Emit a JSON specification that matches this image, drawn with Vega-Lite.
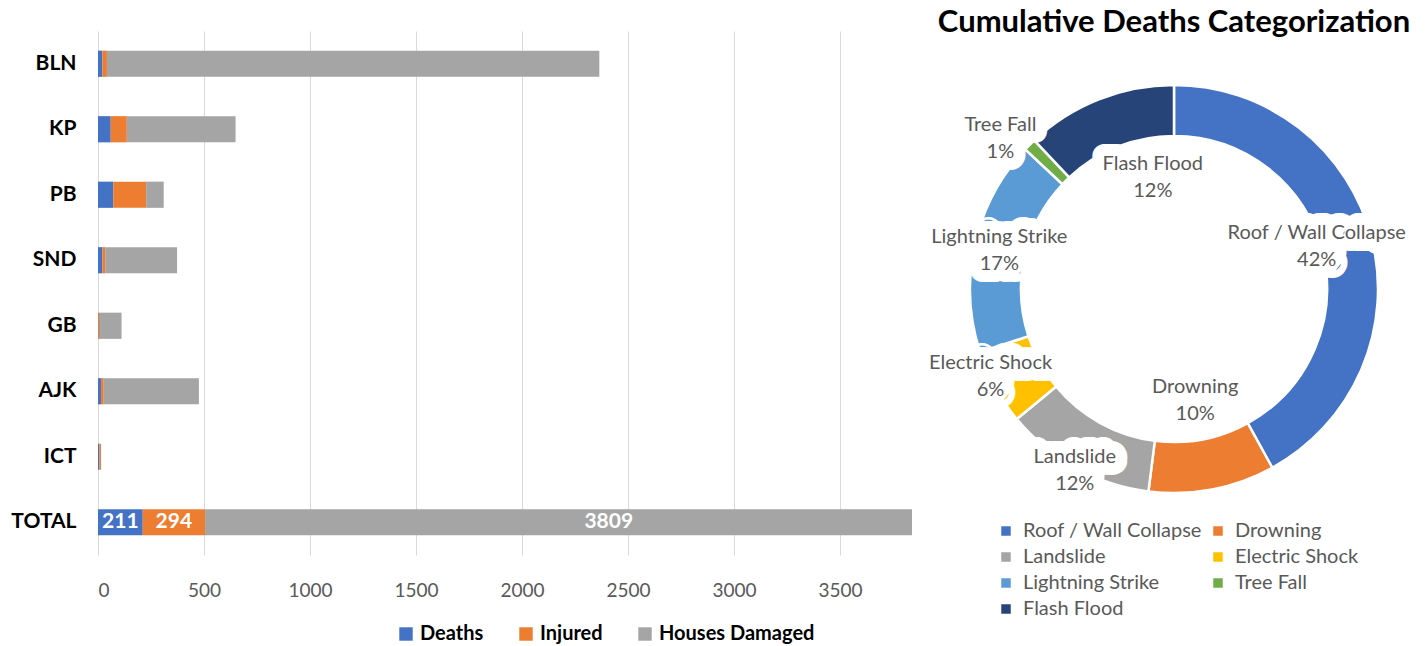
{
  "$schema": "https://vega.github.io/schema/vega-lite/v6.json",
  "background": "white",
  "padding": {"left": 10, "top": 7, "right": 0, "bottom": 0},
  "bounds": "flush",
  "spacing": 58,
  "config": {
    "font": "Lato",
    "view": {"stroke": null},
    "axis": {"labelFont": "Lato"},
    "legend": {"labelFont": "Lato"},
    "title": {"font": "Lato"}
  },
  "datasets": {
    "bars": [
      {"region": "BLN", "measure": "Deaths", "k": 1, "value": 20},
      {"region": "BLN", "measure": "Injured", "k": 2, "value": 22},
      {"region": "BLN", "measure": "Houses Damaged", "k": 3, "value": 2323},
      {"region": "KP", "measure": "Deaths", "k": 1, "value": 60},
      {"region": "KP", "measure": "Injured", "k": 2, "value": 76},
      {"region": "KP", "measure": "Houses Damaged", "k": 3, "value": 513},
      {"region": "PB", "measure": "Deaths", "k": 1, "value": 72},
      {"region": "PB", "measure": "Injured", "k": 2, "value": 155},
      {"region": "PB", "measure": "Houses Damaged", "k": 3, "value": 83},
      {"region": "SND", "measure": "Deaths", "k": 1, "value": 20},
      {"region": "SND", "measure": "Injured", "k": 2, "value": 14},
      {"region": "SND", "measure": "Houses Damaged", "k": 3, "value": 339},
      {"region": "GB", "measure": "Deaths", "k": 1, "value": 3},
      {"region": "GB", "measure": "Injured", "k": 2, "value": 6},
      {"region": "GB", "measure": "Houses Damaged", "k": 3, "value": 102},
      {"region": "AJK", "measure": "Deaths", "k": 1, "value": 14},
      {"region": "AJK", "measure": "Injured", "k": 2, "value": 13},
      {"region": "AJK", "measure": "Houses Damaged", "k": 3, "value": 449},
      {"region": "ICT", "measure": "Deaths", "k": 1, "value": 6},
      {"region": "ICT", "measure": "Injured", "k": 2, "value": 8},
      {"region": "ICT", "measure": "Houses Damaged", "k": 3, "value": 0},
      {"region": "TOTAL", "measure": "Deaths", "k": 1, "value": 211},
      {"region": "TOTAL", "measure": "Injured", "k": 2, "value": 294},
      {"region": "TOTAL", "measure": "Houses Damaged", "k": 3, "value": 3809}
    ],
    "causes": [
      {"i": 1, "cause": "Roof / Wall Collapse", "share": 0.42},
      {"i": 2, "cause": "Drowning", "share": 0.10},
      {"i": 3, "cause": "Landslide", "share": 0.12},
      {"i": 4, "cause": "Electric Shock", "share": 0.06},
      {"i": 5, "cause": "Lightning Strike", "share": 0.17},
      {"i": 6, "cause": "Tree Fall", "share": 0.01},
      {"i": 7, "cause": "Flash Flood", "share": 0.12}
    ]
  },
  "hconcat": [
    {
      "width": 814,
      "height": 524,
      "data": {"name": "bars"},
      "encoding": {
        "y": {
          "field": "region", "type": "nominal", "sort": null,
          "scale": {"paddingInner": 0.6, "paddingOuter": 0.3},
          "axis": {"title": null, "ticks": false, "domain": false, "labelFontWeight": "bold", "labelFontSize": 21, "labelColor": "#000000", "labelPadding": 22}
        }
      },
      "layer": [
        {
          "mark": {"type": "bar", "clip": true},
          "encoding": {
            "x": {
              "field": "value", "type": "quantitative", "stack": "zero",
              "scale": {"domain": [0, 3840], "nice": false},
              "axis": {"title": null, "values": [0, 500, 1000, 1500, 2000, 2500, 3000, 3500], "format": "d", "grid": true, "gridColor": "#d9d9d9", "gridWidth": 1, "ticks": false, "domain": false, "labelFontSize": 19, "labelColor": "#595959", "labelPadding": 26}
            },
            "color": {
              "field": "measure", "type": "nominal",
              "scale": {"domain": ["Deaths", "Injured", "Houses Damaged"], "range": ["#4472C4", "#ED7D31", "#A5A5A5"]},
              "legend": {"orient": "none", "legendX": 298, "legendY": 593, "direction": "horizontal", "title": null, "symbolType": "square", "symbolSize": 180, "symbolStrokeWidth": 0, "labelFontSize": 20, "labelFontWeight": "bold", "labelColor": "#000000", "labelOffset": 4, "columnPadding": 32}
            },
            "order": {"field": "k", "type": "quantitative"}
          }
        },
        {
          "transform": [{"filter": "datum.region == 'TOTAL'"}],
          "mark": {"type": "text", "fontWeight": "bold", "fontSize": 21, "color": "white"},
          "encoding": {
            "x": {"field": "value", "type": "quantitative", "stack": "zero", "bandPosition": 0.5},
            "detail": {"field": "measure", "type": "nominal"},
            "order": {"field": "k", "type": "quantitative"},
            "text": {"field": "value", "type": "quantitative"}
          }
        }
      ]
    },
    {
      "width": 408,
      "height": 516,
      "title": {"text": "Cumulative Deaths Categorization", "fontSize": 31, "fontWeight": "bold", "color": "#000000", "anchor": "middle", "offset": -8},
      "data": {"name": "causes"},
      "encoding": {
        "theta": {"field": "share", "type": "quantitative", "stack": true},
        "order": {"field": "i", "type": "quantitative"}
      },
      "layer": [
        {
          "mark": {"type": "arc", "innerRadius": 153, "outerRadius": 204, "stroke": "white", "strokeWidth": 2.5},
          "encoding": {
            "color": {
              "field": "cause", "type": "nominal",
              "scale": {"domain": ["Roof / Wall Collapse", "Drowning", "Landslide", "Electric Shock", "Lightning Strike", "Tree Fall", "Flash Flood"], "range": ["#4472C4", "#ED7D31", "#A5A5A5", "#FFC000", "#5B9BD5", "#70AD47", "#264478"]},
              "legend": {"orient": "none", "legendX": 26, "legendY": 490, "columns": 2, "direction": "horizontal", "title": null, "symbolType": "square", "symbolSize": 90, "symbolStrokeWidth": 0, "labelFontSize": 20, "labelLimit": 400, "labelColor": "#595959", "columnPadding": 5, "rowPadding": 6, "labelOffset": 7}
            }
          }
        },
        {
          "mark": {"type": "text", "fontSize": 20, "color": "white", "stroke": "white", "strokeWidth": 24, "strokeJoin": "round", "dy": -13,
            "thetaOffset": {"expr": "datum.cause == 'Tree Fall' ? -0.07 : datum.cause == 'Flash Flood' ? 0.19 : datum.cause == 'Electric Shock' ? 0.06 : datum.cause == 'Roof / Wall Collapse' ? -0.04 : 0"},
            "radius": {"expr": "datum.cause == 'Roof / Wall Collapse' ? 149 : datum.cause == 'Drowning' ? 113 : datum.cause == 'Landslide' ? 206 : datum.cause == 'Electric Shock' ? 203 : datum.cause == 'Lightning Strike' ? 179 : datum.cause == 'Tree Fall' ? 230 : 114"}},
          "encoding": {"text": {"field": "cause", "type": "nominal"}}
        },
        {
          "mark": {"type": "text", "fontSize": 20, "color": "white", "stroke": "white", "strokeWidth": 24, "strokeJoin": "round", "dy": 14,
            "thetaOffset": {"expr": "datum.cause == 'Tree Fall' ? -0.07 : datum.cause == 'Flash Flood' ? 0.19 : datum.cause == 'Electric Shock' ? 0.06 : datum.cause == 'Roof / Wall Collapse' ? -0.04 : 0"},
            "radius": {"expr": "datum.cause == 'Roof / Wall Collapse' ? 149 : datum.cause == 'Drowning' ? 113 : datum.cause == 'Landslide' ? 206 : datum.cause == 'Electric Shock' ? 203 : datum.cause == 'Lightning Strike' ? 179 : datum.cause == 'Tree Fall' ? 230 : 114"}},
          "encoding": {"text": {"field": "share", "type": "quantitative", "format": ".0%"}}
        },
        {
          "mark": {"type": "text", "fontSize": 20, "color": "#595959", "dy": -13,
            "thetaOffset": {"expr": "datum.cause == 'Tree Fall' ? -0.07 : datum.cause == 'Flash Flood' ? 0.19 : datum.cause == 'Electric Shock' ? 0.06 : datum.cause == 'Roof / Wall Collapse' ? -0.04 : 0"},
            "radius": {"expr": "datum.cause == 'Roof / Wall Collapse' ? 149 : datum.cause == 'Drowning' ? 113 : datum.cause == 'Landslide' ? 206 : datum.cause == 'Electric Shock' ? 203 : datum.cause == 'Lightning Strike' ? 179 : datum.cause == 'Tree Fall' ? 230 : 114"}},
          "encoding": {"text": {"field": "cause", "type": "nominal"}}
        },
        {
          "mark": {"type": "text", "fontSize": 20, "color": "#595959", "dy": 14,
            "thetaOffset": {"expr": "datum.cause == 'Tree Fall' ? -0.07 : datum.cause == 'Flash Flood' ? 0.19 : datum.cause == 'Electric Shock' ? 0.06 : datum.cause == 'Roof / Wall Collapse' ? -0.04 : 0"},
            "radius": {"expr": "datum.cause == 'Roof / Wall Collapse' ? 149 : datum.cause == 'Drowning' ? 113 : datum.cause == 'Landslide' ? 206 : datum.cause == 'Electric Shock' ? 203 : datum.cause == 'Lightning Strike' ? 179 : datum.cause == 'Tree Fall' ? 230 : 114"}},
          "encoding": {"text": {"field": "share", "type": "quantitative", "format": ".0%"}}
        }
      ]
    }
  ],
  "resolve": {"scale": {"color": "independent", "theta": "independent"}, "legend": {"color": "independent"}}
}
